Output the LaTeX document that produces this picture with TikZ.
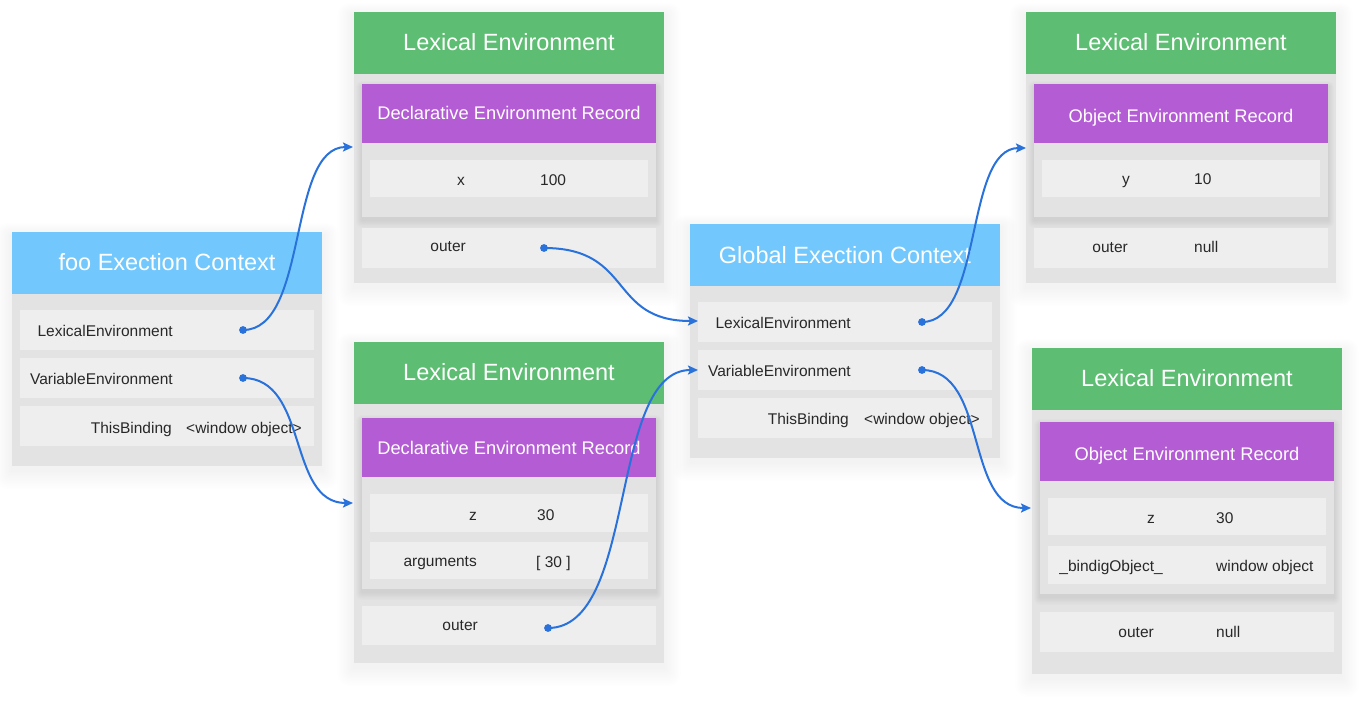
\documentclass[tikz,border=0pt]{standalone}
\usepackage{fontspec}
\setmainfont{Liberation Sans}
\usetikzlibrary{arrows.meta,fit}
\definecolor{hdrblue}{HTML}{72C8FD}
\definecolor{hdrgreen}{HTML}{5DBD72}
\definecolor{recpurple}{HTML}{B35CD4}
\definecolor{bodygray}{HTML}{E3E3E3}
\definecolor{rowgray}{HTML}{EEEEEE}
\definecolor{linkblue}{HTML}{2A72DB}
\definecolor{txtdark}{HTML}{282828}
\newcommand\softshadow[4]{\foreach \k in {1,...,12}{\fill[black,fill opacity=0.0055,rounded corners=\k pt] ({#1-\k*1.4},{#2-\k*1.1+4}) rectangle ({#3+\k*1.4},{#4+\k*1.6+4});}}
\newcommand\recshadow[4]{\foreach \k in {1,...,6}{\fill[black,fill opacity=0.011,rounded corners=\k pt] ({#1-\k},{#2-\k+3}) rectangle ({#3+\k},{#4+\k*1.3+3});}}
\newcommand\area[6]{\node[#2, fit={(#3,#4) (#5,#6)}] (#1) {};}
\tikzset{
  basebox/.style={inner sep=0pt, outer sep=0pt, draw=none, rectangle},
  bluebox/.style={basebox, fill=hdrblue},
  greenbox/.style={basebox, fill=hdrgreen},
  purplebox/.style={basebox, fill=recpurple},
  bodybox/.style={basebox, fill=bodygray},
  rowbox/.style={basebox, fill=rowgray},
  lbl/.style={inner sep=0pt, text=txtdark, font=\fontsize{15.5}{18}\selectfont},
  keytext/.style={lbl, anchor=base east},
  valtext/.style={lbl, anchor=base west},
  ttl/.style={inner sep=0pt, text=white, font=\fontsize{23.5}{28}\selectfont, anchor=base},
  rttl/.style={inner sep=0pt, text=white, font=\fontsize{18.3}{22}\selectfont, anchor=base},
  dotmark/.style={circle, fill=linkblue, inner sep=0pt, minimum size=7.8pt},
  linkline/.style={draw=linkblue, line width=2pt, -{Stealth[length=10pt,width=9pt,inset=2pt]}}
}
\begin{document}
\begin{tikzpicture}[x=1pt,y=-1pt]
\useasboundingbox (0,0) rectangle (1370,702);
\fill[white] (0,0) rectangle (1370,702);
% outer shadows
\softshadow{12}{232}{322}{466}
\softshadow{354}{12}{664}{283}
\softshadow{354}{342}{664}{663}
\softshadow{690}{224}{1000}{458}
\softshadow{1026}{12}{1336}{283}
\softshadow{1032}{348}{1342}{674}

% ---------- foo Execution Context ----------
\area{fooHead}{bluebox}{12}{232}{322}{294}
\area{fooBody}{bodybox}{12}{294}{322}{466}
\area{fooRowLex}{rowbox}{20}{310}{314}{350}
\area{fooRowVar}{rowbox}{20}{358}{314}{398}
\area{fooRowThis}{rowbox}{20}{406}{314}{446}
\node[ttl] (fooTitle) at (167,270) {foo Exection Context};
\node[keytext] (fooLexKey) at (173,336) {LexicalEnvironment};
\node[keytext] (fooVarKey) at (173,384) {VariableEnvironment};
\node[keytext] (fooThisKey) at (172,433) {ThisBinding};
\node[valtext] (fooThisVal) at (186,433) {<window object>};
\node[dotmark] (fooLexDot) at (243,330) {};
\node[dotmark] (fooVarDot) at (243,378) {};

% ---------- Lexical Environment 1 (top middle) ----------
\area{leOneHead}{greenbox}{354}{12}{664}{74}
\area{leOneBody}{bodybox}{354}{74}{664}{283}
\recshadow{362}{84}{656}{217}
\area{leOneRecHead}{purplebox}{362}{84}{656}{143}
\area{leOneRecBody}{bodybox}{362}{143}{656}{217}
\area{leOneRowX}{rowbox}{370}{160}{648}{197}
\area{leOneRowOuter}{rowbox}{362}{228}{656}{268}
\node[ttl] (leOneTitle) at (509,50) {Lexical Environment};
\node[rttl] (leOneRecTitle) at (509,119) {Declarative Environment Record};
\node[keytext] (leOneXKey) at (465,185) {x};
\node[valtext] (leOneXVal) at (540,185) {100};
\node[keytext] (leOneOuterKey) at (466,251) {outer};
\node[dotmark] (leOneOuterDot) at (544,248) {};

% ---------- Lexical Environment 2 (bottom middle) ----------
\area{leTwoHead}{greenbox}{354}{342}{664}{404}
\area{leTwoBody}{bodybox}{354}{404}{664}{663}
\recshadow{362}{418}{656}{589}
\area{leTwoRecHead}{purplebox}{362}{418}{656}{477}
\area{leTwoRecBody}{bodybox}{362}{477}{656}{589}
\area{leTwoRowZ}{rowbox}{370}{494}{648}{532}
\area{leTwoRowArgs}{rowbox}{370}{542}{648}{579}
\area{leTwoRowOuter}{rowbox}{362}{606}{656}{645}
\node[ttl] (leTwoTitle) at (509,380) {Lexical Environment};
\node[rttl] (leTwoRecTitle) at (509,454) {Declarative Environment Record};
\node[keytext] (leTwoZKey) at (477,520) {z};
\node[valtext] (leTwoZVal) at (537,520) {30};
\node[keytext] (leTwoArgsKey) at (477,566) {arguments};
\node[valtext] (leTwoArgsVal) at (536,567) {[ 30 ]};
\node[keytext] (leTwoOuterKey) at (478,630) {outer};
\node[dotmark] (leTwoOuterDot) at (548,628) {};

% ---------- Global Execution Context ----------
\area{glbHead}{bluebox}{690}{224}{1000}{286}
\area{glbBody}{bodybox}{690}{286}{1000}{458}
\area{glbRowLex}{rowbox}{698}{302}{992}{342}
\area{glbRowVar}{rowbox}{698}{350}{992}{390}
\area{glbRowThis}{rowbox}{698}{398}{992}{438}
\node[ttl] (glbTitle) at (845,263) {Global Exection Context};
\node[keytext] (glbLexKey) at (851,328) {LexicalEnvironment};
\node[keytext] (glbVarKey) at (851,376) {VariableEnvironment};
\node[keytext] (glbThisKey) at (849,424) {ThisBinding};
\node[valtext] (glbThisVal) at (864,424) {<window object>};
\node[dotmark] (glbLexDot) at (922,322) {};
\node[dotmark] (glbVarDot) at (922,370) {};

% ---------- Lexical Environment 3 (top right) ----------
\area{leThreeHead}{greenbox}{1026}{12}{1336}{74}
\area{leThreeBody}{bodybox}{1026}{74}{1336}{283}
\recshadow{1034}{84}{1328}{217}
\area{leThreeRecHead}{purplebox}{1034}{84}{1328}{143}
\area{leThreeRecBody}{bodybox}{1034}{143}{1328}{217}
\area{leThreeRowY}{rowbox}{1042}{160}{1320}{197}
\area{leThreeRowOuter}{rowbox}{1034}{228}{1328}{268}
\node[ttl] (leThreeTitle) at (1181,50) {Lexical Environment};
\node[rttl] (leThreeRecTitle) at (1181,122) {Object Environment Record};
\node[keytext] (leThreeYKey) at (1130,184) {y};
\node[valtext] (leThreeYVal) at (1194,184) {10};
\node[keytext] (leThreeOuterKey) at (1128,252) {outer};
\node[valtext] (leThreeOuterVal) at (1194,252) {null};

% ---------- Lexical Environment 4 (bottom right) ----------
\area{leFourHead}{greenbox}{1032}{348}{1342}{410}
\area{leFourBody}{bodybox}{1032}{410}{1342}{674}
\recshadow{1040}{422}{1334}{594}
\area{leFourRecHead}{purplebox}{1040}{422}{1334}{481}
\area{leFourRecBody}{bodybox}{1040}{481}{1334}{594}
\area{leFourRowZ}{rowbox}{1048}{498}{1326}{535}
\area{leFourRowBind}{rowbox}{1048}{546}{1326}{584}
\area{leFourRowOuter}{rowbox}{1040}{612}{1334}{652}
\node[ttl] (leFourTitle) at (1187,386) {Lexical Environment};
\node[rttl] (leFourRecTitle) at (1187,460) {Object Environment Record};
\node[keytext] (leFourZKey) at (1155,523) {z};
\node[valtext] (leFourZVal) at (1216,523) {30};
\node[keytext] (leFourBindKey) at (1163,571) {\_bindigObject\_};
\node[valtext] (leFourBindVal) at (1216,571) {window object};
\node[keytext] (leFourOuterKey) at (1154,637) {outer};
\node[valtext] (leFourOuterVal) at (1216,637) {null};

% ---------- connectors ----------
\coordinate (leOneIn) at (353,147);
\coordinate (leTwoIn) at (353,503);
\coordinate (glbLexIn) at (698,321);
\coordinate (glbVarIn) at (698,370);
\coordinate (leThreeIn) at (1026,148);
\coordinate (leFourIn) at (1031,508);
\draw[linkline] (fooLexDot.center) to[out=0,in=180,out distance=66pt,in distance=66pt] (leOneIn);
\draw[linkline] (fooVarDot.center) to[out=0,in=180,out distance=66pt,in distance=66pt] (leTwoIn);
\draw[linkline] (leOneOuterDot.center) to[out=0,in=180,out distance=90pt,in distance=90pt] (glbLexIn);
\draw[linkline] (leTwoOuterDot.center) to[out=0,in=180,out distance=90pt,in distance=90pt] (glbVarIn);
\draw[linkline] (glbLexDot.center) to[out=0,in=180,out distance=62pt,in distance=62pt] (leThreeIn);
\draw[linkline] (glbVarDot.center) to[out=0,in=180,out distance=66pt,in distance=66pt] (leFourIn);
\end{tikzpicture}
\end{document}
